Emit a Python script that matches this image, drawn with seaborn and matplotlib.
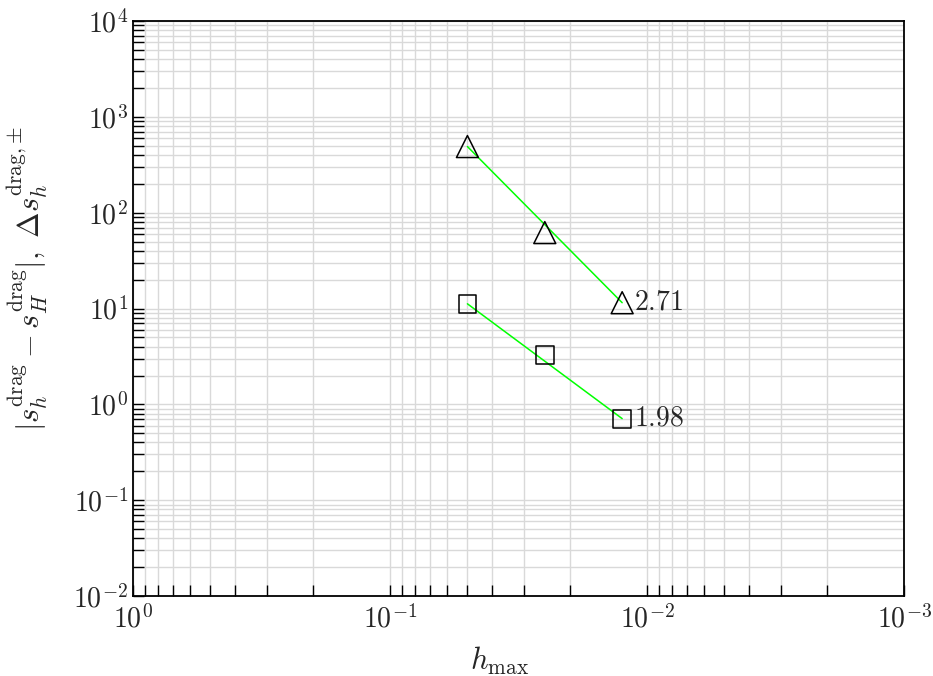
import numpy as np
import pandas as pd
import matplotlib
matplotlib.use("Agg")
import matplotlib.pyplot as plt
import seaborn as sns
from matplotlib.ticker import LogLocator, NullFormatter

# data
h_max = [0.05, 0.025, 0.0125]
err_tri = [490.0, 62.0, 11.5]     # triangles
err_sq = [11.2, 3.3, 0.71]        # squares
rate_labels = ["2.71", "1.98"]

sns.set_theme(style="white")
plt.rcParams["mathtext.fontset"] = "cm"
plt.rcParams["font.family"] = ["cmr10", "DejaVu Serif"]
plt.rcParams["axes.formatter.use_mathtext"] = True

fig = plt.figure(figsize=(9.33, 6.76), dpi=100)
ax = fig.add_axes([0.1426, 0.1183, 0.8264, 0.8506])

df = pd.DataFrame({"h": h_max * 2,
                   "err": err_tri + err_sq,
                   "kind": ["tri"] * 3 + ["sq"] * 3})

# green rate lines between first and last point of each series
for kind in ["tri", "sq"]:
    sub = df[df["kind"] == kind].iloc[[0, -1]]
    sns.lineplot(data=sub, x="h", y="err", color="#00ff00", lw=1.1,
                 ax=ax, legend=False, zorder=3)

sns.scatterplot(data=df[df["kind"] == "tri"], x="h", y="err", marker="^",
                s=250, facecolor="none", edgecolor="black", linewidth=1.1,
                ax=ax, zorder=4)
sns.scatterplot(data=df[df["kind"] == "sq"], x="h", y="err", marker="s",
                s=165, facecolor="none", edgecolor="black", linewidth=1.1,
                ax=ax, zorder=4)

ax.set_xscale("log")
ax.set_yscale("log")
ax.set_xlim(1, 1e-3)
ax.set_ylim(1e-2, 1e4)

# rate labels next to last points
ax.text(h_max[-1] * 0.9, err_tri[-1], "$" + rate_labels[0] + "$",
        fontsize=20, va="center", ha="left")
ax.text(h_max[-1] * 0.9, err_sq[-1], "$" + rate_labels[1] + "$",
        fontsize=20, va="center", ha="left")

ax.xaxis.set_major_locator(LogLocator(base=10, numticks=10))
ax.xaxis.set_minor_locator(LogLocator(base=10, subs=np.arange(2, 10), numticks=20))
ax.yaxis.set_major_locator(LogLocator(base=10, numticks=10))
ax.yaxis.set_minor_locator(LogLocator(base=10, subs=np.arange(2, 10), numticks=20))
ax.xaxis.set_minor_formatter(NullFormatter())
ax.yaxis.set_minor_formatter(NullFormatter())

ax.grid(True, which="both", color="#d9d9d9", lw=1.0)
ax.set_axisbelow(True)
ax.tick_params(which="both", direction="in", top=False, right=False,
               bottom=True, left=True, length=8, width=1, color="black",
               labelsize=20)
ax.tick_params(axis="x", pad=6)
for sp in ax.spines.values():
    sp.set_color("black")
    sp.set_linewidth(1.3)

ax.set_xlabel(r"$h_{\max}$", fontsize=22)
ax.set_ylabel(r"$|s_h^{\mathrm{drag}} - s_H^{\mathrm{drag}}|,\ \Delta s_h^{\mathrm{drag}{,}\pm}$",
              fontsize=22)
ax.xaxis.set_label_coords(0.476, -0.085)
ax.yaxis.set_label_coords(-0.108, 0.551)

fig.savefig("out.png", dpi=100)
